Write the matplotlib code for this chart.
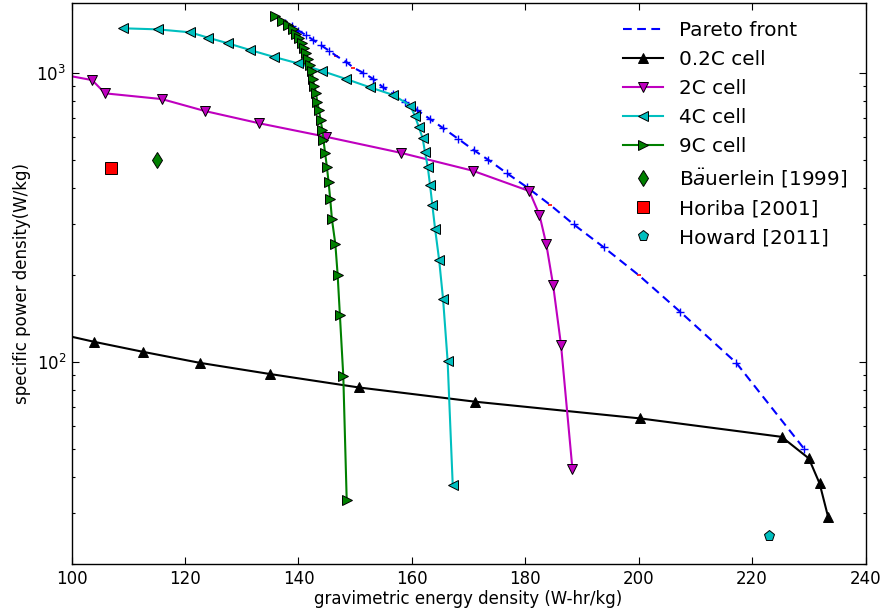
import matplotlib.pyplot as plt

# Pareto front (energy W-hr/kg, power W/kg)
pareto_e = [137.6, 138.8, 140.0, 141.3, 142.6, 143.9, 145.4, 146.7, 148.4, 149.7,
            151.4, 153.2, 154.9, 156.7, 158.8, 160.9, 163.2, 165.5, 168.2, 170.9,
            173.5, 176.8, 180.3, 184.4, 188.5, 193.8, 200.0, 207.3, 217.2, 229.2]
pareto_p = [1496, 1457, 1404, 1356, 1303, 1252, 1197, 1147, 1096, 1045,
            1004, 955, 894, 847, 798, 746, 694, 646, 592, 542,
            501, 450, 403, 350, 300, 250, 200, 149.4, 99.4, 50]
# pareto designs drawn with a red tick instead of a blue cross
pareto_red = [7, 9, 23, 26]

# 0.2C cell
c02_e = [96.7, 103.9, 112.5, 122.6, 135.0, 150.6, 171.2, 200.3, 225.2, 230.0, 231.9, 233.4]
c02_p = [126.6, 117.6, 108.6, 99.4, 90.9, 81.7, 72.9, 63.8, 55.1, 46.4, 38.0, 29.1]

# 2C cell
c2_e = [96.5, 103.6, 105.9, 115.9, 123.5, 133.1, 144.8, 158.1, 170.7, 180.7,
        182.5, 183.7, 184.9, 186.3, 188.3]
c2_p = [1005, 947, 852, 814, 740, 671, 603, 530, 460, 391,
        323, 256, 185, 114.5, 42.8]

# 4C cell
c4_e = [109.1, 115.2, 120.9, 124.1, 127.6, 131.5, 135.6, 139.9, 144.1, 148.4,
        152.6, 156.7, 159.7, 160.5, 161.2, 161.9, 162.3, 162.8, 163.2, 163.6,
        164.1, 164.8, 165.5, 166.3, 167.2]
c4_p = [1431, 1419, 1386, 1327, 1269, 1203, 1140, 1082, 1019, 955,
        894, 841, 773, 714, 653, 595, 534, 473, 410, 350,
        288, 226, 165, 100.8, 37.5]

# 9C cell
c9_e = [135.9, 137.1, 138.2, 139.0, 139.6, 140.1, 140.6, 141.0, 141.3, 141.6,
        142.1, 142.4, 142.5, 142.8, 143.1, 143.3, 143.6, 143.9, 144.2, 144.4,
        144.7, 145.0, 145.3, 145.6, 145.9, 146.5, 146.9, 147.3, 147.9, 148.5]
c9_p = [1582, 1520, 1469, 1419, 1367, 1321, 1269, 1220, 1172, 1117,
        1068, 1018, 953, 903, 852, 797, 746, 689, 636, 587,
        528, 475, 421, 366, 312, 256, 201, 145.5, 89.4, 33.3]

# literature points
bauerlein = (115, 500)
horiba = (107, 470)
howard = (223, 25)

x_ticks = [100, 120, 140, 160, 180, 200, 220, 240]

plt.rcParams['font.size'] = 12

fig, ax = plt.subplots(figsize=(8.85, 6.13), dpi=100)
fig.subplots_adjust(left=0.081, right=0.978, bottom=0.080, top=0.995)

edge = dict(mec='k', mew=0.7)

blue_e = [e for i, e in enumerate(pareto_e) if i not in pareto_red]
blue_p = [p for i, p in enumerate(pareto_p) if i not in pareto_red]
red_e = [pareto_e[i] for i in pareto_red]
red_p = [pareto_p[i] for i in pareto_red]
ax.plot(red_e, red_p, 'r_', ms=3, mew=1.2)
ax.plot(pareto_e, pareto_p, color='b', ls='--', dashes=(4.2, 2.6), lw=1.5,
        label='Pareto front')
ax.plot(blue_e, blue_p, 'b+', ms=6, mew=1.0)
ax.plot(c02_e, c02_p, 'k-', lw=1.5, marker='^', ms=6.5, label='0.2C cell', **edge)
ax.plot(c2_e, c2_p, 'm-', lw=1.5, marker='v', ms=6.5, label='2C cell', **edge)
ax.plot(c4_e, c4_p, 'c-', lw=1.5, marker='<', ms=6.5, label='4C cell', **edge)
ax.plot(c9_e, c9_p, 'g-', lw=1.5, marker='>', ms=6.5, label='9C cell', **edge)
ax.plot(*bauerlein, 'gd', ms=8, ls='none', label=r'B$\ddot{a}$uerlein [1999]', **edge)
ax.plot(*horiba, 'rs', ms=8, ls='none', label='Horiba [2001]', **edge)
ax.plot(*howard, 'cp', ms=8, ls='none', label='Howard [2011]', **edge)

ax.set_yscale('log')
ax.set_xlim(100, 240)
ax.set_ylim(20, 1750)
ax.set_xticks(x_ticks)
ax.tick_params(which='both', direction='in', top=True, right=True)
ax.tick_params(which='major', length=5, width=0.8, pad=4)
ax.tick_params(which='minor', length=2.5, width=0.8)
for sp in ax.spines.values():
    sp.set_linewidth(1.0)

ax.set_xlabel('gravimetric energy density (W-hr/kg)', labelpad=2)
ax.set_ylabel('specific power density(W/kg)', labelpad=4)

ax.legend(loc='upper right', frameon=False, numpoints=1, fontsize=14.4)

fig.savefig('out.png', dpi=100)
